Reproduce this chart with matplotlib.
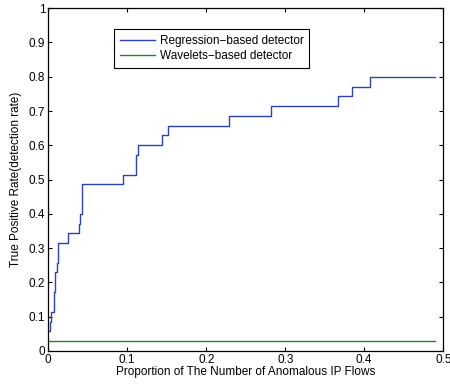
import matplotlib
matplotlib.use("Agg")
import matplotlib.pyplot as plt

plt.rcParams["font.family"] = ["Liberation Sans", "DejaVu Sans"]

# step curve: (x, y) where y holds until next x
reg_x = [0.0013, 0.0020, 0.0034, 0.0076, 0.0090, 0.0110, 0.0126, 0.025, 0.0387,
         0.040, 0.0425, 0.0945, 0.111, 0.114, 0.144, 0.152, 0.229, 0.2825,
         0.367, 0.3845, 0.4076, 0.490]
reg_y = [0.057, 0.086, 0.114, 0.171, 0.229, 0.257, 0.314, 0.343, 0.371,
         0.400, 0.486, 0.514, 0.571, 0.600, 0.629, 0.657, 0.686, 0.714,
         0.743, 0.771, 0.800, 0.800]

wav_x = [0.0, 0.49]
wav_y = [0.03, 0.03]

x_ticks = [0, 0.1, 0.2, 0.3, 0.4, 0.5]
x_labels = ["0", "0.1", "0.2", "0.3", "0.4", "0.5"]
y_ticks = [0, 0.1, 0.2, 0.3, 0.4, 0.5, 0.6, 0.7, 0.8, 0.9, 1]
y_labels = ["0", "0.1", "0.2", "0.3", "0.4", "0.5", "0.6", "0.7", "0.8", "0.9", "1"]

fig = plt.figure(figsize=(4.5, 3.86), dpi=100)
ax = fig.add_axes([0.107, 0.0907, 0.878, 0.888])

ax.plot(reg_x, reg_y, drawstyle="steps-post", color="#2a44b8", lw=1.0,
        label="Regression\u2212based detector")
ax.plot(wav_x, wav_y, color="#1a8a1a", lw=1.0,
        label="Wavelets\u2212based detector")

ax.set_xlim(0, 0.5)
ax.set_ylim(0, 1)
ax.set_xticks(x_ticks)
ax.set_xticklabels(x_labels)
ax.set_yticks(y_ticks)
ax.set_yticklabels(y_labels)
ax.tick_params(direction="in", top=True, right=True, labelsize=8.5, length=3,
               width=0.8, pad=2)
for s in ax.spines.values():
    s.set_linewidth(0.9)

ax.set_xlabel("Proportion of The Number of Anomalous IP Flows", fontsize=8.5, labelpad=0)
ax.set_ylabel("True Positive Rate(detection rate)", fontsize=8.5, labelpad=5)

leg = ax.legend(loc="upper left", bbox_to_anchor=(0.167, 0.938), fontsize=8.5,
                fancybox=False, framealpha=1, edgecolor="black",
                handlelength=3.0, handletextpad=0.35, borderpad=0.5,
                labelspacing=0.2, borderaxespad=0)
leg.get_frame().set_linewidth(0.8)

fig.savefig("out.png", dpi=100)
